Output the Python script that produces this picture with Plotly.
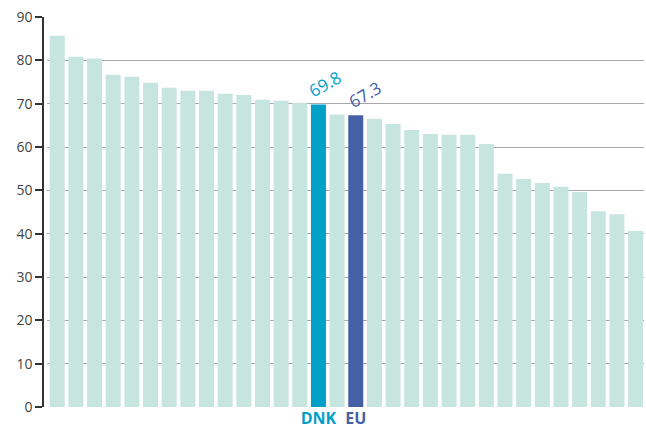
import plotly.graph_objects as go

# Data (32 bars, sorted descending)
labels = [""] * 14 + ["DNK", "", "EU"] + [""] * 15
values = [85.7, 80.8, 80.4, 76.7, 76.2, 74.8, 73.7, 73.0, 73.0, 72.3, 72.0, 70.9, 70.7, 70.2,
          69.8, 67.5, 67.3, 66.5, 65.3, 63.9, 63.0, 62.8, 62.8, 60.7, 53.8, 52.6, 51.7, 50.8,
          49.6, 45.2, 44.5, 40.6]
y_ticks = [0, 10, 20, 30, 40, 50, 60, 70, 80, 90]

LIGHT = "#C7E5DF"
DNK_C = "#00A1C8"
EU_C = "#4460A6"

positions = list(range(len(values)))
colors = []
for lab in labels:
    if lab == "DNK":
        colors.append(DNK_C)
    elif lab == "EU":
        colors.append(EU_C)
    else:
        colors.append(LIGHT)

fig = go.Figure()
fig.add_trace(go.Bar(x=positions, y=values, marker=dict(color=colors, line=dict(width=0)),
                     hoverinfo="skip"))

hl_vals, hl_text = [], []
for i, lab in enumerate(labels):
    if lab:
        c = DNK_C if lab == "DNK" else EU_C
        hl_vals.append(i)
        hl_text.append(f"<span style='color:{c}'><b>{lab}</b></span>")
        fig.add_annotation(x=i, y=values[i], text=f"{values[i]:.1f}", showarrow=False,
                           textangle=-30, yshift=21, xshift=7 if lab == "DNK" else 9,
                           font=dict(size=17, color=c, family="Open Sans"))

W, H = 646, 428
fig.update_layout(
    width=W, height=H,
    margin=dict(l=0, r=0, t=17, b=21, autoexpand=False),
    paper_bgcolor="white", plot_bgcolor="white",
    bargap=0.196,
    showlegend=False,
    font=dict(family="Open Sans", color="#444444"),
    xaxis=dict(domain=[47 / W, 644 / W], range=[-0.55, 31.45], automargin=False,
               tickmode="array", tickvals=hl_vals, ticktext=hl_text,
               ticks="", showgrid=False, zeroline=False, showline=False,
               tickfont=dict(size=16, family="Open Sans"), ticklabelstandoff=0),
    yaxis=dict(range=[0, 90], tickmode="array", tickvals=y_ticks, automargin=False,
               anchor="free", position=43 / W,
               showline=True, linecolor="#333333", linewidth=1.5,
               ticks="outside", ticklen=7, tickcolor="#333333", tickwidth=1.5,
               showgrid=True, gridcolor="#A8A8A8", gridwidth=1.2,
               zeroline=False,
               tickfont=dict(size=14, color="#444444", family="Open Sans")),
)

fig.write_html("out.html", config={"displayModeBar": False},
               post_script="document.body.style.margin='0px';document.body.style.overflow='hidden';")
